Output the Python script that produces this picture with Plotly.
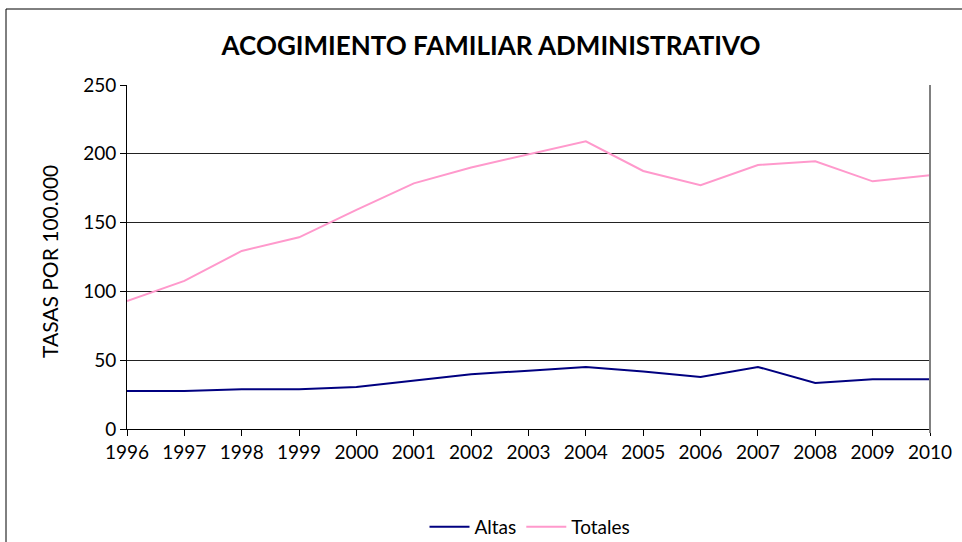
import plotly.graph_objects as go

years = [1996, 1997, 1998, 1999, 2000, 2001, 2002, 2003, 2004, 2005, 2006, 2007, 2008, 2009, 2010]
altas = [27.6, 27.6, 28.8, 28.8, 30.5, 35.1, 39.7, 42.4, 45.1, 41.7, 37.8, 45.1, 33.4, 36.1, 36.1]
totales = [93.0, 107.6, 129.4, 139.3, 159.2, 178.5, 190.1, 199.5, 209.1, 187.5, 177.1, 191.9, 194.5, 180.0, 184.4]
y_ticks = [0, 50, 100, 150, 200, 250]

FONT = "Lato, 'Open Sans', sans-serif"

L, R, T, B = 127, 32, 85, 113
PW, PH = 962 - L - R, 542 - T - B

def px(x):
    return (x - L) / PW

def py(y):
    return (542 - B - y) / PH

fig = go.Figure()
fig.add_trace(go.Scatter(x=years, y=altas, mode="lines", name="Altas",
                         line=dict(color="#000080", width=2)))
fig.add_trace(go.Scatter(x=years, y=totales, mode="lines", name="Totales",
                         line=dict(color="#FF99CC", width=2)))

fig.update_layout(
    width=962, height=542,
    margin=dict(l=L, r=R, t=T, b=B, autoexpand=False),
    paper_bgcolor="white", plot_bgcolor="white",
    font=dict(family=FONT, color="black", size=19),
    title=dict(text="<b>ACOGIMIENTO FAMILIAR ADMINISTRATIVO</b>", x=px(491), xref="paper",
               xanchor="center", y=1 - 46 / 542, yref="container", yanchor="middle",
               font=dict(family=FONT, size=26, color="black")),
    showlegend=True,
    legend=dict(orientation="h", x=px(530), xanchor="center", y=py(527), yanchor="middle",
                font=dict(family=FONT, size=19, color="black"),
                bgcolor="rgba(0,0,0,0)", tracegroupgap=0, itemwidth=40),
    xaxis=dict(range=[1996, 2010], tickvals=years, ticktext=[str(y) for y in years],
               showgrid=False, zeroline=False, showline=True, linecolor="black", linewidth=1,
               ticks="outside", ticklen=6, tickcolor="black",
               tickfont=dict(family=FONT, size=19, color="black")),
    yaxis=dict(range=[0, 250], tickvals=y_ticks,
               showgrid=True, gridcolor="#222222", gridwidth=1, zeroline=False,
               showline=True, linecolor="black", linewidth=1,
               ticks="outside", ticklen=6, tickcolor="black",
               tickfont=dict(family=FONT, size=19, color="black")),
)

# y-axis title, placed slightly below the plot-area centre as in the reference
fig.add_annotation(text="TASAS POR 100.000", xref="paper", yref="paper",
                   x=px(49), y=py(262), xanchor="center", yanchor="middle",
                   textangle=-90, showarrow=False,
                   font=dict(family=FONT, size=21, color="black"))

# right border of plot area (gray)
fig.add_shape(type="line", xref="paper", yref="paper", x0=1, x1=1, y0=py(433), y1=1,
              line=dict(color="#808080", width=2))
# outer chart frame (extends beyond the visible area on right and bottom)
fig.add_shape(type="rect", xref="paper", yref="paper",
              x0=px(6), x1=px(975), y0=py(560), y1=py(9),
              line=dict(color="black", width=1), fillcolor="rgba(0,0,0,0)", layer="below")

fig.write_html("out.html", config={"displayModeBar": False})

# remove default page margin so the figure sits at the window's corner
with open("out.html", "r", encoding="utf-8") as f:
    html = f.read()
html = html.replace("<head>", "<head><style>html,body{margin:0;padding:0;overflow:hidden}</style>", 1)
with open("out.html", "w", encoding="utf-8") as f:
    f.write(html)
